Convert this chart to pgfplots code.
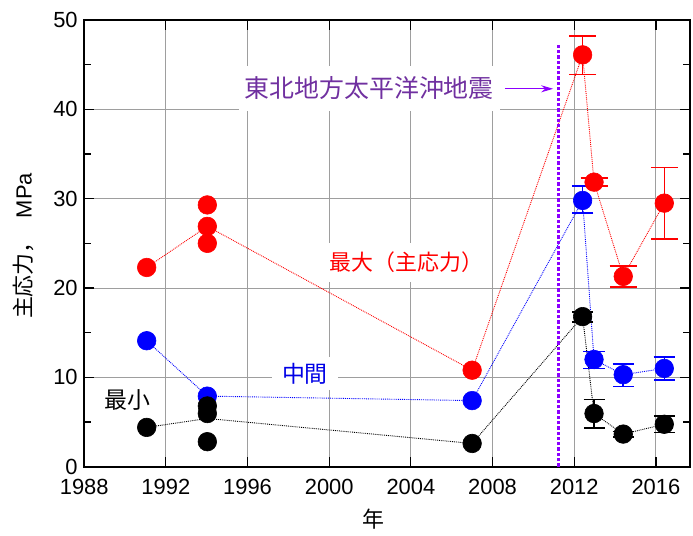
\documentclass[border=0pt]{standalone}
\usepackage{pgfplots}
\pgfplotsset{compat=1.18}
\usepackage{fontspec}
\setmainfont{Liberation Sans}
\newfontfamily\jp{Noto Sans CJK JP}
\usetikzlibrary{arrows.meta}
\definecolor{purp}{RGB}{112,48,160}
\definecolor{viol}{RGB}{140,0,255}
\definecolor{mblue}{RGB}{0,0,230}

\pgfplotstableread{
x y
1991.06 22.3
1994.03 26.9
2007.0 10.8
2012.41 46.1
2012.97 31.85
2014.4 21.3
2016.41 29.5
}\redline
\pgfplotstableread{
x y
1991.06 14.1
1994.03 7.9
2007.0 7.4
2012.41 29.8
2012.97 12.0
2014.4 10.3
2016.41 11.0
}\blueline
\pgfplotstableread{
x y
1991.06 4.4
1994.03 5.4
2007.0 2.6
2012.41 16.8
2012.97 5.95
2014.4 3.65
2016.41 4.75
}\blackline
\pgfplotstableread{
x y
1991.06 22.3
1994.03 29.3
1994.03 26.9
1994.03 25.0
2007.0 10.8
}\redpts
\pgfplotstableread{
x y
1991.06 14.1
1994.03 7.9
2007.0 7.4
}\bluepts
\pgfplotstableread{
x y
1991.06 4.4
1994.03 6.8
1994.03 5.95
1994.03 2.8
2007.0 2.6
}\blackpts
\pgfplotstableread{
x y ep em
2012.41 46.1 2.1 2.2
2012.97 31.85 0.45 0.45
2014.4 21.3 1.15 1.2
2016.41 29.5 4.0 4.0
}\rederr
\pgfplotstableread{
x y ep em
2012.41 29.8 1.6 1.4
2012.97 12.0 0.9 1.0
2014.4 10.3 1.2 1.3
2016.41 11.0 1.3 1.3
}\blueerr
\pgfplotstableread{
x y ep em
2012.41 16.8 0.5 0.6
2012.97 5.95 1.55 1.6
2014.4 3.65 0.3 0.3
2016.41 4.75 0.9 0.9
}\blackerr

\begin{document}
\begin{tikzpicture}
\path[use as bounding box] (-84.2bp,-69.3bp) rectangle (608.8bp,466.7bp);
\begin{axis}[
  at={(0,0)}, anchor=south west,
  width=605.8bp, height=446.7bp, scale only axis,
  xmin=1988, xmax=2017.67, ymin=0, ymax=50,
  xtick={1988,1992,...,2016}, ytick={0,10,...,50},
  minor x tick num=1, minor y tick num=1,
  xticklabel style={/pgf/number format/1000 sep={}, yshift=-9bp},
  yticklabel style={xshift=-3bp},
  /pgf/number format/assume math mode=true,
  tick label style={font=\fontsize{22}{26}\selectfont},
  grid=major, major grid style={draw=black!38, line width=0.9bp},
  tick align=inside, major tick length=10bp, minor tick length=7bp,
  tick style={black, line width=1.2bp},
  axis line style={line width=1.8bp},
  xlabel={\jp 年},
  xlabel style={at={(rel axis cs:0.4767,0)}, anchor=center, yshift=-52.3bp, font=\fontsize{22}{26}\selectfont},
  ylabel={{\jp 主応力，}\hspace{0.6em}MPa},
  ylabel style={at={(rel axis cs:0,0.494)}, anchor=center, yshift=60.7bp, font=\fontsize{22}{26}\selectfont},
]
% connecting lines
\addplot[red, densely dotted, line width=0.9bp] table[x=x,y=y] {\redline};
\addplot[blue, densely dotted, line width=0.9bp] table[x=x,y=y] {\blueline};
\addplot[black, densely dotted, line width=0.9bp] table[x=x,y=y] {\blackline};
% earthquake line
\draw[viol, line width=3.3bp, dash pattern=on 3.3bp off 2bp] (axis cs:2011.22,0) -- (axis cs:2011.22,47.2);
% markers
\addplot[only marks, mark=*, mark size=9.3bp, mark options={fill=red, draw=red, line width=0.6bp, solid}] table[x=x,y=y] {\redpts};
\addplot[only marks, mark=*, red, mark size=9.3bp, mark options={fill=red, draw=red, line width=0.6bp, solid},
  error bars/.cd, y dir=both, y explicit, error bar style={line width=1.5bp, solid, red},
  error mark options={rotate=90, mark size=13.5bp, line width=1.5bp, red}]
  table[x=x, y=y, y error plus=ep, y error minus=em] {\rederr};
\addplot[only marks, mark=*, mark size=9.3bp, mark options={fill=blue, draw=blue, line width=0.6bp, solid}] table[x=x,y=y] {\bluepts};
\addplot[only marks, mark=*, blue, mark size=9.3bp, mark options={fill=blue, draw=blue, line width=0.6bp, solid},
  error bars/.cd, y dir=both, y explicit, error bar style={line width=1.5bp, solid, blue},
  error mark options={rotate=90, mark size=10.7bp, line width=1.5bp, blue}]
  table[x=x, y=y, y error plus=ep, y error minus=em] {\blueerr};
\addplot[only marks, mark=*, mark size=9.3bp, mark options={fill=black, draw=black, line width=0.6bp, solid}] table[x=x,y=y] {\blackpts};
\addplot[only marks, mark=*, black, mark size=9.3bp, mark options={fill=black, draw=black, line width=0.6bp, solid},
  error bars/.cd, y dir=both, y explicit, error bar style={line width=1.5bp, solid, black},
  error mark options={rotate=90, mark size=10.5bp, line width=1.5bp, black}]
  table[x=x, y=y, y error plus=ep, y error minus=em] {\blackerr};
% labels
\node[fill=white, inner xsep=6bp, inner ysep=11bp, text=purp, font=\jp\fontsize{25}{28}\selectfont] at (axis cs:2001.96,42.36) {東北地方太平洋沖地震};
\draw[viol, line width=1.2bp, -{Stealth[length=12bp, width=7bp]}] (axis cs:2008.6,42.3) -- (axis cs:2010.97,42.3);
\node[fill=white, inner xsep=9bp, inner ysep=9bp, text=red, font=\jp\fontsize{22}{26}\selectfont] at (axis cs:2003.78,22.85) {最大（主応力）};
\node[fill=white, inner xsep=10bp, inner ysep=6bp, text=mblue, font=\jp\fontsize{23}{26}\selectfont] at (axis cs:1998.81,10.41) {中間};
\node[text=black, font=\jp\fontsize{23}{26}\selectfont] at (axis cs:1990.12,7.44) {最小};
\end{axis}
\end{tikzpicture}
\end{document}
